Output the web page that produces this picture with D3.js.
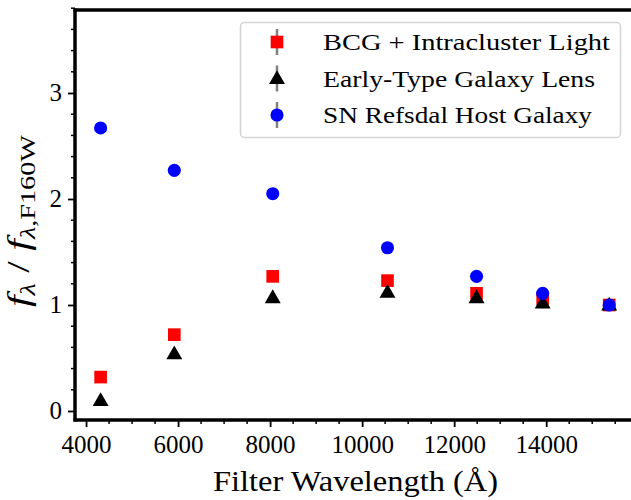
<!DOCTYPE html>
<html>
<head>
<meta charset="utf-8">
<script src="https://cdn.jsdelivr.net/npm/d3@7/dist/d3.min.js"></script>
<style>
  html, body { margin: 0; padding: 0; background: #fff; }
  svg { display: block; }
  text { font-family: "Liberation Serif", "DejaVu Serif", serif; fill: #000; }
</style>
</head>
<body>
<div id="chart"></div>
<script>
// Filter pivot wavelengths (F435W ... F160W)
const wavelengths = [4317, 5918, 8057, 10551, 12486, 13923, 15369];
const bcgFlux = [0.32, 0.72, 1.27, 1.23, 1.11, 1.06, 1.00];
const lensFlux = [0.10, 0.54, 1.07, 1.12, 1.07, 1.02, 1.00];
const hostFlux = [2.67, 2.27, 2.05, 1.54, 1.27, 1.11, 1.00];
const seriesNames = ["BCG + Intracluster Light", "Early-Type Galaxy Lens", "SN Refsdal Host Galaxy"];
const xTicks = [4000, 6000, 8000, 10000, 12000, 14000];
const yTicks = [0, 1, 2, 3];

const width = 631, height = 500;
const svg = d3.select("#chart").append("svg")
  .attr("width", width)
  .attr("height", height);

const x = d3.scaleLinear().domain([3760, 16060]).range([75, 641]);
const y = d3.scaleLinear().domain([-0.085, 3.783]).range([420, 10]);

// minor ticks
const xMinor = d3.range(4000, 16001, 500).filter(v => !xTicks.includes(v));
const yMinor = d3.range(0, 3.81, 0.2).filter(v => Math.abs(v - Math.round(v)) > 1e-6);

const gx = svg.append("g").attr("transform", "translate(0,420)");
gx.selectAll(".minor").data(xMinor).join("line")
  .attr("x1", d => x(d)).attr("x2", d => x(d))
  .attr("y1", 0).attr("y2", 4)
  .attr("stroke", "#000").attr("stroke-width", 1.5);
gx.call(d3.axisBottom(x).tickValues(xTicks).tickSize(7).tickPadding(8).tickFormat(d3.format("d")))
  .call(g => g.select(".domain").remove())
  .call(g => g.selectAll(".tick line").attr("stroke-width", 1.8))
  .call(g => g.selectAll(".tick text").attr("font-size", 25).attr("font-family", "Liberation Serif"));

const gy = svg.append("g").attr("transform", "translate(75,0)");
gy.selectAll(".minor").data(yMinor).join("line")
  .attr("x1", 0).attr("x2", -4)
  .attr("y1", d => y(d)).attr("y2", d => y(d))
  .attr("stroke", "#000").attr("stroke-width", 1.5);
gy.call(d3.axisLeft(y).tickValues(yTicks).tickSize(7).tickPadding(6).tickFormat(d3.format("d")))
  .call(g => g.select(".domain").remove())
  .call(g => g.selectAll(".tick line").attr("stroke-width", 1.8))
  .call(g => g.selectAll(".tick text").attr("font-size", 25).attr("font-family", "Liberation Serif"));

// spines
svg.append("line").attr("x1", 75).attr("x2", 75).attr("y1", 8.5).attr("y2", 421.5)
  .attr("stroke", "#000").attr("stroke-width", 3.5);
svg.append("line").attr("x1", 73.5).attr("x2", 640).attr("y1", 420).attr("y2", 420)
  .attr("stroke", "#000").attr("stroke-width", 3.5);
svg.append("line").attr("x1", 73.5).attr("x2", 640).attr("y1", 10).attr("y2", 10)
  .attr("stroke", "#000").attr("stroke-width", 3.5);

// markers
const sq = d3.symbol().type(d3.symbolSquare).size(160);
const tri = d3.symbol().type(d3.symbolTriangle).size(110);
const circ = d3.symbol().type(d3.symbolCircle).size(135);

const plot = svg.append("g");
plot.selectAll(".bcg").data(wavelengths).join("path")
  .attr("d", sq).attr("fill", "#ff0000")
  .attr("transform", (d, i) => `translate(${x(d)},${y(bcgFlux[i])})`);
plot.selectAll(".lens").data(wavelengths).join("path")
  .attr("d", tri).attr("fill", "#000")
  .attr("transform", (d, i) => `translate(${x(d)},${y(lensFlux[i]) + 1})`);
plot.selectAll(".host").data(wavelengths).join("path")
  .attr("d", circ).attr("fill", "#0000ff")
  .attr("transform", (d, i) => `translate(${x(d)},${y(hostFlux[i])})`);

// legend
const leg = svg.append("g");
leg.append("rect").attr("x", 240.5).attr("y", 22.5).attr("width", 380).attr("height", 115)
  .attr("rx", 4).attr("fill", "#fff").attr("fill-opacity", 0.8)
  .attr("stroke", "#d4d4d4").attr("stroke-width", 1.5);
const legMarks = [[sq, "#ff0000"], [tri, "#000"], [circ, "#0000ff"]];
const legWidths = [287, 272, 269];
seriesNames.forEach((name, i) => {
  const cy = 42 + i * 36.5;
  leg.append("line").attr("x1", 277).attr("x2", 277).attr("y1", cy - 13).attr("y2", cy + 13)
    .attr("stroke", "#808080").attr("stroke-width", 2.5);
  leg.append("path").attr("d", legMarks[i][0]).attr("fill", legMarks[i][1])
    .attr("transform", `translate(277,${cy + (i === 1 ? 1 : 0)})`);
  leg.append("text").attr("x", 323).attr("y", cy + 8)
    .attr("font-size", 23.5)
    .attr("textLength", legWidths[i]).attr("lengthAdjust", "spacingAndGlyphs")
    .text(name);
});

// axis labels
svg.append("text").attr("x", 213).attr("y", 491)
  .attr("font-size", 30)
  .attr("textLength", 285).attr("lengthAdjust", "spacingAndGlyphs")
  .text("Filter Wavelength (\u00c5)");

const yl = svg.append("text")
  .attr("transform", "translate(29,307) rotate(-90)")
  .attr("font-size", 31)
  .attr("textLength", 172).attr("lengthAdjust", "spacingAndGlyphs");
yl.append("tspan").attr("font-style", "italic").text("f");
yl.append("tspan").attr("font-style", "italic").attr("font-size", 21).attr("dy", 6).text("\u03bb");
yl.append("tspan").attr("dy", -6).text("  /  ");
yl.append("tspan").attr("font-style", "italic").text("f");
yl.append("tspan").attr("font-style", "italic").attr("font-size", 21).attr("dy", 6).text("\u03bb");
yl.append("tspan").attr("font-size", 21).text(",F160W");
</script>
</body>
</html>
